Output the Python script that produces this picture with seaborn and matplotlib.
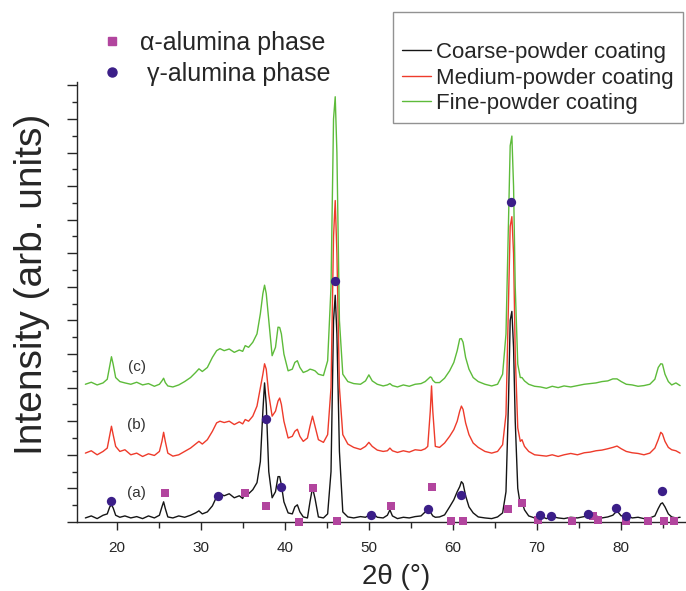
import numpy as np
import pandas as pd
import matplotlib.pyplot as plt
import seaborn as sns
from matplotlib.lines import Line2D
from matplotlib.ticker import MultipleLocator

# 2-theta grid (degrees)
two_theta = [16.3, 17, 17.7, 18.4, 18.9, 19.2, 19.4, 19.6, 19.9, 20.4, 21, 21.7, 22.4, 23.1, 23.8, 24.5,
             25.1, 25.4, 25.6, 25.8, 26.1, 26.7, 27.4, 28.1, 28.8, 29.4, 29.8, 30.2, 30.8, 31.4, 31.9, 32.3,
             32.8, 33.4, 34.0, 34.6, 35.0, 35.3, 35.7, 36.2, 36.7, 37.1, 37.4, 37.6, 37.8, 38.1, 38.5, 38.9,
             39.2, 39.4, 39.6, 39.9, 40.4, 40.9, 41.2, 41.5, 41.8, 42.2, 42.7, 43.0, 43.3, 43.6, 44.0, 44.6,
             45.1, 45.5, 45.8, 46.0, 46.2, 46.5, 46.9, 47.5, 48.2, 49.0, 49.6, 50.0, 50.4, 51.0, 51.7, 52.2,
             52.5, 52.8, 53.4, 54.1, 54.8, 55.5, 56.2, 56.7, 57.0, 57.3, 57.45, 57.6, 57.9, 58.4, 59.0, 59.6,
             60.1, 60.5, 60.8, 61.0, 61.2, 61.5, 61.9, 62.4, 63.0, 63.8, 64.6, 65.3, 65.9, 66.3, 66.6, 66.8,
             67.0, 67.2, 67.4, 67.7, 68.0, 68.2, 68.5, 69.0, 69.7, 70.4, 71.1, 71.8, 72.5, 73.2, 74.0, 74.8,
             75.6, 76.3, 77.0, 77.7, 78.4, 79.0, 79.5, 80.0, 80.6, 81.3, 82.0, 82.7, 83.4, 84.0, 84.4, 84.7,
             84.9, 85.2, 85.6, 86.0, 86.5, 87.0]

# (a) coarse powder
coarse = [12, 18, 10, 20, 24, 45, 51, 42, 20, 14, 18, 12, 16, 10, 18, 12,
          20, 45, 60, 40, 15, 12, 18, 14, 20, 27, 33, 24, 30, 48, 75, 84,
          78, 84, 72, 78, 70, 90, 84, 96, 117, 180, 330, 414, 350, 150, 72, 90,
          135, 135, 110, 60, 27, 24, 45, 51, 30, 15, 12, 60, 102, 70, 15, 12,
          24, 150, 600, 675, 560, 210, 30, 15, 12, 16, 14, 20, 27, 14, 12, 20,
          36, 18, 10, 14, 12, 16, 18, 30, 42, 30, 24, 18, 14, 15, 21, 45,
          66, 90, 105, 120, 114, 78, 45, 27, 15, 12, 10, 15, 27, 90, 360, 600,
          627, 520, 300, 100, 51, 60, 36, 18, 12, 18, 10, 16, 12, 10, 14, 12,
          16, 24, 18, 12, 15, 20, 33, 18, 20, 12, 14, 10, 12, 18, 40, 54,
          57, 45, 24, 15, 12, 14]

# (b) medium powder
medium = [205, 212, 200, 210, 220, 260, 285, 260, 225, 210, 215, 200, 205, 195, 203, 198,
          210, 240, 267, 240, 205, 196, 200, 210, 220, 232, 240, 232, 245, 270, 295, 300,
          296, 300, 290, 298, 292, 305, 300, 315, 345, 400, 440, 471, 455, 380, 315, 330,
          360, 369, 350, 300, 250, 255, 270, 276, 255, 240, 250, 285, 315, 285, 245, 237,
          260, 400, 850, 957, 800, 400, 260, 232, 222, 216, 225, 237, 225, 214, 210, 212,
          220, 212, 207, 212, 208, 215, 213, 218, 225, 330, 405, 330, 225, 222, 235, 255,
          275, 300, 330, 345, 335, 295, 260, 235, 222, 210, 205, 210, 230, 320, 650, 880,
          909, 800, 500, 280, 240, 245, 225, 210, 200, 198, 196, 200, 195, 200, 204, 200,
          206, 208, 212, 214, 218, 222, 226, 218, 210, 206, 204, 200, 205, 220, 245, 267,
          262, 240, 222, 215, 212, 205]

# (c) fine powder
fine = [410, 416, 408, 414, 425, 465, 492, 470, 430, 418, 414, 410, 416, 408, 412, 404,
        410, 420, 428, 415, 405, 402, 408, 418, 430, 445, 456, 448, 460, 490, 510, 516,
        510, 515, 505, 512, 508, 525, 520, 535, 560, 620, 680, 705, 680, 600, 495, 520,
        580, 579, 560, 500, 450, 455, 475, 480, 460, 445, 450, 455, 453, 450, 440, 436,
        480, 700, 1200, 1266, 1100, 600, 440, 418, 412, 410, 420, 438, 420, 410, 405, 408,
        412, 406, 402, 408, 404, 410, 412, 418, 425, 432, 430, 422, 415, 415, 428, 450,
        475, 510, 545, 546, 535, 490, 455, 430, 418, 410, 405, 410, 440, 560, 900, 1120,
        1149, 1000, 700, 470, 430, 430, 420, 410, 404, 402, 398, 404, 400, 405, 402, 406,
        410, 412, 414, 418, 420, 426, 426, 418, 410, 408, 404, 406, 410, 425, 460, 471,
        470, 440, 418, 408, 414, 406]

# phase markers
alpha_x = [25.8, 35.3, 37.8, 41.7, 43.4, 46.2, 52.6, 57.5, 59.8, 61.2, 66.5, 68.2, 70.1, 74.2,
           76.7, 77.2, 80.6, 83.2, 85.1, 86.3]
alpha_y = [87, 87, 48, 0, 102, 3, 48, 105, 3, 3, 39, 57, 6, 3, 18, 6, 3, 3, 3, 3]
gamma_x = [19.4, 32.1, 37.8, 39.5, 46.0, 50.3, 57.0, 60.9, 66.9, 70.3, 71.6, 76.0, 79.4, 80.6, 84.8]
gamma_y = [63, 78, 306, 105, 717, 21, 39, 81, 954, 21, 18, 24, 42, 18, 93]

series_names = ['Coarse-powder coating', 'Medium-powder coating', 'Fine-powder coating']
series_colors = ['#151515', '#ee3b2b', '#5dbb3a']
curve_tags = ['(a)', '(b)', '(c)']
tag_y = [87, 288, 462]
alpha_color = '#b2459e'
gamma_color = '#3b1e88'

sns.set_style('ticks')
plt.rcParams['font.family'] = ['Liberation Sans', 'DejaVu Sans']

df = pd.DataFrame({
    'two_theta': two_theta * 3,
    'intensity': coarse + medium + fine,
    'sample': np.repeat(series_names, len(two_theta)),
})

fig = plt.figure(figsize=(6.86, 5.91), dpi=100)
ax = fig.add_axes([0.1122, 0.1168, 0.8878, 0.7445])

sns.lineplot(data=df, x='two_theta', y='intensity', hue='sample', hue_order=series_names,
             palette=series_colors, linewidth=1.0, estimator=None, ax=ax)
sns.scatterplot(x=alpha_x, y=alpha_y, marker='s', color=alpha_color, s=38, linewidth=0,
                clip_on=False, zorder=5, legend=False, ax=ax)
sns.scatterplot(x=gamma_x, y=gamma_y, marker='o', color=gamma_color, s=45, linewidth=0,
                clip_on=False, zorder=5, legend=False, ax=ax)

for tag, ty in zip(curve_tags, tag_y):
    ax.text(22.4, ty, tag, fontsize=11, color='#333333', ha='center', va='center')

ax.set_xlim(15.3, 87.7)
ax.set_ylim(0, 1310)
ax.xaxis.set_major_locator(MultipleLocator(10))
ax.xaxis.set_minor_locator(MultipleLocator(5))
ax.yaxis.set_major_locator(MultipleLocator(100))
ax.yaxis.set_minor_locator(MultipleLocator(50))
ax.tick_params(axis='y', which='major', length=7, width=1, labelleft=False)
ax.tick_params(axis='y', which='minor', length=3.5, width=1)
ax.tick_params(axis='x', which='major', length=6, width=1, labelsize=11, pad=8)
ax.tick_params(axis='x', which='minor', length=4.5, width=1)
sns.despine(ax=ax)
for sp in ['left', 'bottom']:
    ax.spines[sp].set_linewidth(1.0)

ax.set_xlabel('2θ (°)', fontsize=20)
ax.set_ylabel('Intensity (arb. units)', fontsize=28)
ax.xaxis.set_label_coords(0.524, -0.095)
ax.yaxis.set_label_coords(-0.045, 0.539)

# curve legend (upper right box)
handles, labels = ax.get_legend_handles_labels()
leg = ax.legend(handles, labels, loc='upper right', bbox_to_anchor=(0.995, 0.98),
                bbox_transform=fig.transFigure, frameon=True, fancybox=False,
                edgecolor='#777777', fontsize=16, title=' ', title_fontsize=13,
                handlelength=1.3, handletextpad=0.25, labelspacing=0.2, borderpad=0.4,
                borderaxespad=0)
leg.get_frame().set_linewidth(1.0)
for ln in leg.get_lines():
    ln.set_linewidth(1.0)
ax.add_artist(leg)

# phase marker legend (upper left)
mk_handles = [Line2D([], [], marker='s', color=alpha_color, linestyle='', markersize=6),
              Line2D([], [], marker='o', color=gamma_color, linestyle='', markersize=6.5)]
ax.legend(mk_handles, ['α-alumina phase', ' γ-alumina phase'], loc='upper left',
          bbox_to_anchor=(100 / 686, 1 - 31 / 591), bbox_transform=fig.transFigure,
          frameon=False, fontsize=18, handlelength=0.95, handletextpad=0.65,
          labelspacing=0.28, borderpad=0, borderaxespad=0)

fig.savefig('out.png', dpi=100)
